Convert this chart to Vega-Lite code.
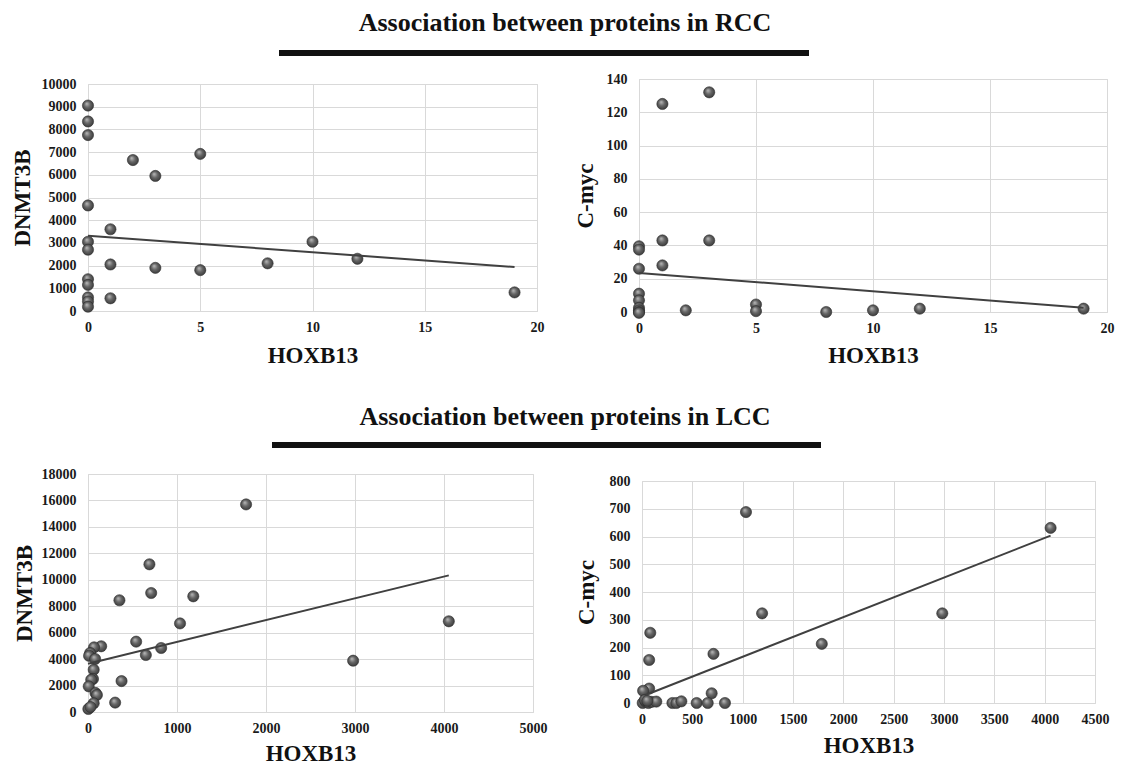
{
  "$schema": "https://vega.github.io/schema/vega-lite/v6.json",
  "background": "white",
  "padding": {"left": 10, "top": 8, "right": 0, "bottom": 0},
  "datasets": {
    "rcc_dnmt": [
      {"hoxb13": 0, "dnmt3b": 9050}, {"hoxb13": 0, "dnmt3b": 8350}, {"hoxb13": 0, "dnmt3b": 7750},
      {"hoxb13": 0, "dnmt3b": 4650}, {"hoxb13": 0, "dnmt3b": 3050}, {"hoxb13": 0, "dnmt3b": 2700},
      {"hoxb13": 0, "dnmt3b": 1400}, {"hoxb13": 0, "dnmt3b": 1150}, {"hoxb13": 0, "dnmt3b": 600},
      {"hoxb13": 0, "dnmt3b": 420}, {"hoxb13": 0, "dnmt3b": 190},
      {"hoxb13": 1, "dnmt3b": 3600}, {"hoxb13": 1, "dnmt3b": 2050}, {"hoxb13": 1, "dnmt3b": 560},
      {"hoxb13": 2, "dnmt3b": 6650}, {"hoxb13": 3, "dnmt3b": 5950}, {"hoxb13": 3, "dnmt3b": 1900},
      {"hoxb13": 5, "dnmt3b": 6920}, {"hoxb13": 5, "dnmt3b": 1800}, {"hoxb13": 8, "dnmt3b": 2100},
      {"hoxb13": 10, "dnmt3b": 3050}, {"hoxb13": 12, "dnmt3b": 2300}, {"hoxb13": 19, "dnmt3b": 820}
    ],
    "rcc_dnmt_trend": [{"hoxb13": 0, "dnmt3b": 3310}, {"hoxb13": 19, "dnmt3b": 1940}],
    "rcc_myc": [
      {"hoxb13": 0, "cmyc": 39.5}, {"hoxb13": 0, "cmyc": 37.5}, {"hoxb13": 0, "cmyc": 26},
      {"hoxb13": 0, "cmyc": 11}, {"hoxb13": 0, "cmyc": 7}, {"hoxb13": 0, "cmyc": 2.5},
      {"hoxb13": 0, "cmyc": 1}, {"hoxb13": 0, "cmyc": 0}, {"hoxb13": 0, "cmyc": -0.5},
      {"hoxb13": 1, "cmyc": 125}, {"hoxb13": 1, "cmyc": 43}, {"hoxb13": 1, "cmyc": 28},
      {"hoxb13": 2, "cmyc": 1}, {"hoxb13": 3, "cmyc": 132}, {"hoxb13": 3, "cmyc": 43},
      {"hoxb13": 5, "cmyc": 4.5}, {"hoxb13": 5, "cmyc": 0.5}, {"hoxb13": 8, "cmyc": 0},
      {"hoxb13": 10, "cmyc": 1}, {"hoxb13": 12, "cmyc": 2}, {"hoxb13": 19, "cmyc": 2}
    ],
    "rcc_myc_trend": [{"hoxb13": 0, "cmyc": 23.5}, {"hoxb13": 19, "cmyc": 2.5}],
    "lcc_dnmt": [
      {"hoxb13": 1776, "dnmt3b": 15700}, {"hoxb13": 690, "dnmt3b": 11170}, {"hoxb13": 710, "dnmt3b": 9000},
      {"hoxb13": 1183, "dnmt3b": 8750}, {"hoxb13": 353, "dnmt3b": 8450}, {"hoxb13": 1034, "dnmt3b": 6700},
      {"hoxb13": 4054, "dnmt3b": 6860}, {"hoxb13": 541, "dnmt3b": 5320}, {"hoxb13": 822, "dnmt3b": 4840},
      {"hoxb13": 650, "dnmt3b": 4310}, {"hoxb13": 2979, "dnmt3b": 3880}, {"hoxb13": 148, "dnmt3b": 4970},
      {"hoxb13": 68, "dnmt3b": 4890}, {"hoxb13": 24, "dnmt3b": 4460}, {"hoxb13": 12, "dnmt3b": 4250},
      {"hoxb13": 80, "dnmt3b": 4010}, {"hoxb13": 64, "dnmt3b": 3200}, {"hoxb13": 56, "dnmt3b": 2500},
      {"hoxb13": 36, "dnmt3b": 2440}, {"hoxb13": 8, "dnmt3b": 1940}, {"hoxb13": 84, "dnmt3b": 1440},
      {"hoxb13": 100, "dnmt3b": 1290}, {"hoxb13": 64, "dnmt3b": 660}, {"hoxb13": 305, "dnmt3b": 710},
      {"hoxb13": 377, "dnmt3b": 2340}, {"hoxb13": 4, "dnmt3b": 230}, {"hoxb13": 28, "dnmt3b": 380}
    ],
    "lcc_dnmt_trend": [{"hoxb13": 0, "dnmt3b": 3655}, {"hoxb13": 4054, "dnmt3b": 10335}],
    "lcc_myc": [
      {"hoxb13": 1033, "cmyc": 688}, {"hoxb13": 4059, "cmyc": 631}, {"hoxb13": 1193, "cmyc": 323},
      {"hoxb13": 2983, "cmyc": 323}, {"hoxb13": 1786, "cmyc": 213}, {"hoxb13": 710, "cmyc": 177},
      {"hoxb13": 71, "cmyc": 155}, {"hoxb13": 82, "cmyc": 253}, {"hoxb13": 71, "cmyc": 52},
      {"hoxb13": 11, "cmyc": 44}, {"hoxb13": 692, "cmyc": 35}, {"hoxb13": 7, "cmyc": 0},
      {"hoxb13": 36, "cmyc": 5}, {"hoxb13": 64, "cmyc": 0}, {"hoxb13": 96, "cmyc": 4},
      {"hoxb13": 142, "cmyc": 5}, {"hoxb13": 302, "cmyc": 0}, {"hoxb13": 341, "cmyc": 0},
      {"hoxb13": 391, "cmyc": 6}, {"hoxb13": 543, "cmyc": 0}, {"hoxb13": 653, "cmyc": 0},
      {"hoxb13": 824, "cmyc": 0}, {"hoxb13": 28, "cmyc": 11}, {"hoxb13": 53, "cmyc": 8}
    ],
    "lcc_myc_trend": [{"hoxb13": 36, "cmyc": 29}, {"hoxb13": 4059, "cmyc": 603}]
  },
  "bounds": "flush",
  "spacing": 392,
  "vconcat": [
    {
      "bounds": "flush",
      "spacing": 21,
      "vconcat": [
        {
          "width": 954,
          "height": 50,
          "view": {"stroke": null},
          "data": {"values": [{}]},
          "layer": [
            {
              "mark": {"type": "text", "text": "Association between proteins in RCC", "font": "Liberation Serif", "fontWeight": "bold", "fontSize": 26, "color": "#111111", "align": "center", "baseline": "middle"},
              "encoding": {
                "x": {"datum": 565, "type": "quantitative", "scale": {"domain": [88, 1042], "zero": false, "nice": false}, "axis": null},
                "y": {"datum": 15, "type": "quantitative", "scale": {"domain": [0, 50], "reverse": true, "zero": false, "nice": false}, "axis": null}
              }
            },
            {
              "mark": {"type": "rule", "strokeWidth": 6, "color": "#111111", "strokeCap": "butt"},
              "encoding": {
                "x": {"datum": 279, "type": "quantitative", "scale": {"domain": [88, 1042], "zero": false, "nice": false}, "axis": null},
                "x2": {"datum": 809},
                "y": {"datum": 45, "type": "quantitative", "scale": {"domain": [0, 50], "reverse": true, "zero": false, "nice": false}, "axis": null}
              }
            }
          ]
        },
        {
          "bounds": "flush",
          "spacing": 551,
          "hconcat": [
            {
              "bounds": "flush",
              "spacing": 4,
              "vconcat": [
                {"width": 1, "height": 1, "view": {"stroke": null}, "data": {"values": []}, "mark": "point"},
                {
                  "width": 449,
                  "height": 227,
                  "encoding": {
                    "x": {"field": "hoxb13", "type": "quantitative", "scale": {"domain": [0, 20], "nice": false},
                      "axis": {"values": [0, 5, 10, 15, 20], "format": "d", "title": "HOXB13", "titleY": 44}},
                    "y": {"field": "dnmt3b", "type": "quantitative", "scale": {"domain": [0, 10000], "nice": false},
                      "axis": {"values": [0, 1000, 2000, 3000, 4000, 5000, 6000, 7000, 8000, 9000, 10000], "format": "d", "title": "DNMT3B", "titleX": -66}}
                  },
                  "layer": [
                    {
                      "data": {"name": "rcc_dnmt"},
                      "mark": {"type": "circle", "size": 125, "opacity": 1, "stroke": "#2e2e2e", "strokeWidth": 0.6,
                        "fill": {"gradient": "radial", "x1": 0.38, "y1": 0.32, "r1": 0, "x2": 0.5, "y2": 0.5, "r2": 0.6,
                          "stops": [{"offset": 0, "color": "#bdbdbd"}, {"offset": 0.45, "color": "#666666"}, {"offset": 1, "color": "#303030"}]}}
                    },
                    {
                      "data": {"name": "rcc_dnmt_trend"},
                      "mark": {"type": "line", "color": "#404040", "strokeWidth": 2}
                    }
                  ]
                }
              ]
            },
            {
              "width": 468,
              "height": 233,
              "encoding": {
                "x": {"field": "hoxb13", "type": "quantitative", "scale": {"domain": [0, 20], "nice": false},
                  "axis": {"values": [0, 5, 10, 15, 20], "format": "d", "title": "HOXB13", "titleY": 43}},
                "y": {"field": "cmyc", "type": "quantitative", "scale": {"domain": [0, 140], "nice": false},
                  "axis": {"values": [0, 20, 40, 60, 80, 100, 120, 140], "format": "d", "title": "C-myc", "titleX": -54}}
              },
              "layer": [
                {
                  "data": {"name": "rcc_myc"},
                  "mark": {"type": "circle", "size": 125, "opacity": 1, "stroke": "#2e2e2e", "strokeWidth": 0.6,
                    "fill": {"gradient": "radial", "x1": 0.38, "y1": 0.32, "r1": 0, "x2": 0.5, "y2": 0.5, "r2": 0.6,
                      "stops": [{"offset": 0, "color": "#bdbdbd"}, {"offset": 0.45, "color": "#666666"}, {"offset": 1, "color": "#303030"}]}}
                },
                {
                  "data": {"name": "rcc_myc_trend"},
                  "mark": {"type": "line", "color": "#404040", "strokeWidth": 2}
                }
              ]
            }
          ]
        }
      ]
    },
    {
      "bounds": "flush",
      "spacing": 24,
      "vconcat": [
        {
          "width": 954,
          "height": 50,
          "view": {"stroke": null},
          "data": {"values": [{}]},
          "layer": [
            {
              "mark": {"type": "text", "text": "Association between proteins in LCC", "font": "Liberation Serif", "fontWeight": "bold", "fontSize": 26, "color": "#111111", "align": "center", "baseline": "middle"},
              "encoding": {
                "x": {"datum": 565, "type": "quantitative", "scale": {"domain": [88, 1042], "zero": false, "nice": false}, "axis": null},
                "y": {"datum": 17, "type": "quantitative", "scale": {"domain": [0, 50], "reverse": true, "zero": false, "nice": false}, "axis": null}
              }
            },
            {
              "mark": {"type": "rule", "strokeWidth": 6, "color": "#111111", "strokeCap": "butt"},
              "encoding": {
                "x": {"datum": 272, "type": "quantitative", "scale": {"domain": [88, 1042], "zero": false, "nice": false}, "axis": null},
                "x2": {"datum": 821},
                "y": {"datum": 45, "type": "quantitative", "scale": {"domain": [0, 50], "reverse": true, "zero": false, "nice": false}, "axis": null}
              }
            }
          ]
        },
        {
          "bounds": "flush",
          "spacing": 109,
          "hconcat": [
            {
              "width": 445,
              "height": 238,
              "encoding": {
                "x": {"field": "hoxb13", "type": "quantitative", "scale": {"domain": [0, 5000], "nice": false},
                  "axis": {"values": [0, 1000, 2000, 3000, 4000, 5000], "format": "d", "title": "HOXB13", "titleY": 41}},
                "y": {"field": "dnmt3b", "type": "quantitative", "scale": {"domain": [0, 18000], "nice": false},
                  "axis": {"values": [0, 2000, 4000, 6000, 8000, 10000, 12000, 14000, 16000, 18000], "format": "d", "title": "DNMT3B", "titleX": -64}}
              },
              "layer": [
                {
                  "data": {"name": "lcc_dnmt"},
                  "mark": {"type": "circle", "size": 125, "opacity": 1, "stroke": "#2e2e2e", "strokeWidth": 0.6,
                    "fill": {"gradient": "radial", "x1": 0.38, "y1": 0.32, "r1": 0, "x2": 0.5, "y2": 0.5, "r2": 0.6,
                      "stops": [{"offset": 0, "color": "#bdbdbd"}, {"offset": 0.45, "color": "#666666"}, {"offset": 1, "color": "#303030"}]}}
                },
                {
                  "data": {"name": "lcc_dnmt_trend"},
                  "mark": {"type": "line", "color": "#404040", "strokeWidth": 2}
                }
              ]
            },
            {
              "bounds": "flush",
              "spacing": 6,
              "vconcat": [
                {"width": 1, "height": 1, "view": {"stroke": null}, "data": {"values": []}, "mark": "point"},
                {
                  "width": 453,
                  "height": 222,
                  "encoding": {
                    "x": {"field": "hoxb13", "type": "quantitative", "scale": {"domain": [0, 4500], "nice": false},
                      "axis": {"values": [0, 500, 1000, 1500, 2000, 2500, 3000, 3500, 4000, 4500], "format": "d", "title": "HOXB13", "titleY": 42}},
                    "y": {"field": "cmyc", "type": "quantitative", "scale": {"domain": [0, 800], "nice": false},
                      "axis": {"values": [0, 100, 200, 300, 400, 500, 600, 700, 800], "format": "d", "title": "C-myc", "titleX": -56}}
                  },
                  "layer": [
                    {
                      "data": {"name": "lcc_myc"},
                      "mark": {"type": "circle", "size": 125, "opacity": 1, "stroke": "#2e2e2e", "strokeWidth": 0.6,
                        "fill": {"gradient": "radial", "x1": 0.38, "y1": 0.32, "r1": 0, "x2": 0.5, "y2": 0.5, "r2": 0.6,
                          "stops": [{"offset": 0, "color": "#bdbdbd"}, {"offset": 0.45, "color": "#666666"}, {"offset": 1, "color": "#303030"}]}}
                    },
                    {
                      "data": {"name": "lcc_myc_trend"},
                      "mark": {"type": "line", "color": "#404040", "strokeWidth": 2}
                    }
                  ]
                }
              ]
            }
          ]
        }
      ]
    }
  ],
  "config": {
    "view": {"stroke": "#d9d9d9", "strokeWidth": 1},
    "axis": {
      "grid": true, "gridColor": "#d9d9d9", "gridWidth": 1, "domain": false, "ticks": false, "tickSize": 0,
      "labelFont": "Liberation Serif", "labelFontWeight": "bold", "labelFontSize": 14, "labelColor": "#1a1a1a",
      "labelFlush": false, "labelOverlap": false,
      "titleFont": "Liberation Serif", "titleFontWeight": "bold", "titleFontSize": 23, "titleColor": "#111111",
      "titleBaseline": "middle"
    },
    "axisX": {"labelPadding": 9},
    "axisY": {"labelPadding": 12}
  }
}
